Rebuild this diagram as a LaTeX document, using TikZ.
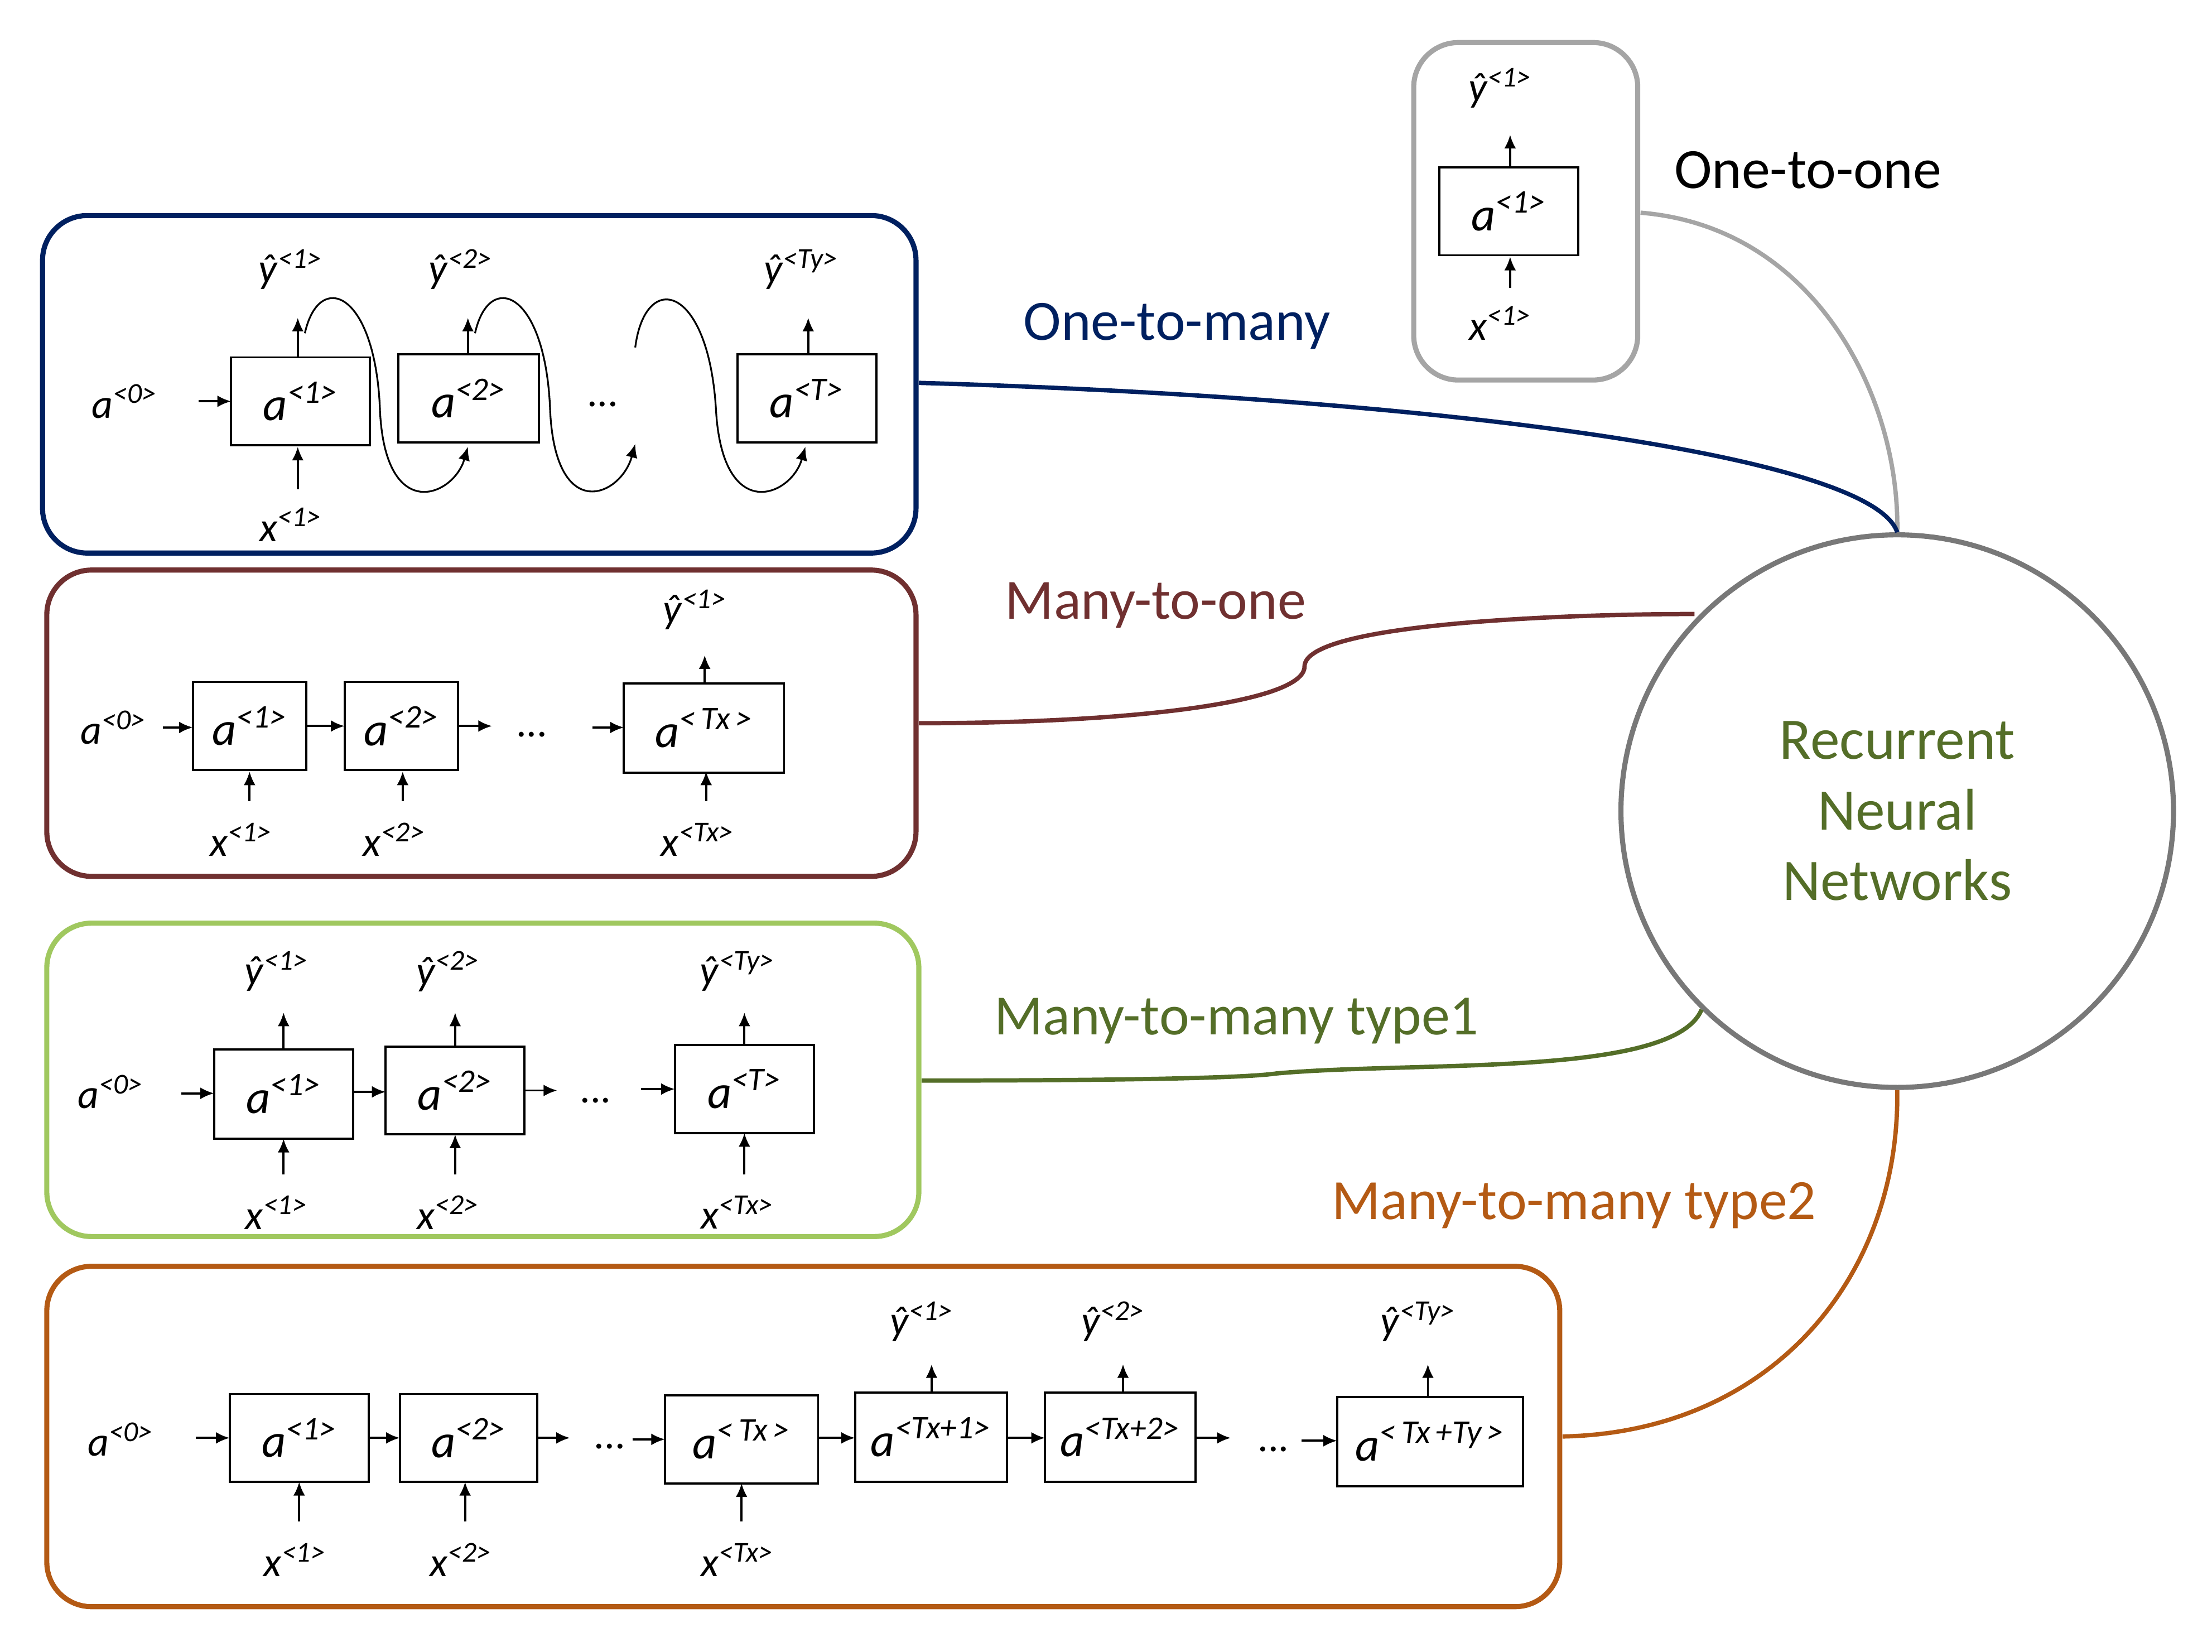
\documentclass[tikz,border=0pt]{standalone}
\usepackage{fontspec}
\setmainfont{Carlito}
\usetikzlibrary{arrows.meta}
\definecolor{navy}{RGB}{0,32,96}
\definecolor{maroon}{RGB}{112,48,48}
\definecolor{lgreen}{RGB}{160,200,95}
\definecolor{dgreen}{RGB}{84,110,40}
\definecolor{rust}{RGB}{180,90,20}
\definecolor{gr}{RGB}{165,165,165}
\definecolor{cg}{RGB}{120,120,120}
\newcommand\sym[2]{\textit{#1}\textsuperscript{\textit{<#2>}}}
\newcommand\yh[1]{\textit{ŷ}\textsuperscript{\textit{<#1>}}}
\begin{document}
\begin{tikzpicture}[x=0.0254cm,y=-0.0254cm,
 grp/.style={draw,line width=2.6pt,rounded corners=0.8cm},
 cell/.style={draw,line width=1.1pt,font=\fontsize{24}{26}\selectfont,inner sep=0pt},
 lab/.style={font=\fontsize{21}{23}\selectfont,inner sep=1pt},
 ttl/.style={font=\fontsize{29}{32}\selectfont},
 arr/.style={-{Latex[length=7pt,width=6pt]},line width=1.1pt},
 conn/.style={line width=2.2pt}]
\useasboundingbox (0,0) rectangle (1560,1164.6);
\def\C#1#2#3#4#5#6{\node[cell,minimum width={(#4-#2)*0.0254 cm},minimum height={(#5-#3)*0.0254 cm}] (#1) at ({(#2+#4)/2},{(#3+#5)/2}) {#6};}
% ---------- circle
\node[draw=cg,line width=2.6pt,circle,inner sep=0pt,minimum size=9.9cm,text=dgreen,align=center,font=\fontsize{30}{36}\selectfont] (rnn) at (1338,572) {Recurrent\\Neural\\Networks};
% ---------- one-to-one
\draw[grp,draw=gr] (997,30) rectangle (1155,268);
\coordinate (g0) at (1157,150);
\C{o1}{1015}{118}{1113}{180}{\sym{a}{1}}
\node[lab] (o1y) at (1058,62) {\yh{1}};
\node[lab] (o1x) at (1058,228) {\sym{x}{1}};
\draw[arr] (1065,118) -- (1065,95);
\draw[arr] (1065,203) -- (1065,181);
\node[ttl] (t0) at (1275,120) {One-to-one};
\draw[conn,gr] (g0) .. controls (1280,160) and (1340,280) .. (rnn.north);
% ---------- one-to-many
\draw[grp,draw=navy] (30,152) rectangle (646,390);
\node[ttl,text=navy] (t1) at (830,230) {One-to-many};
\coordinate (g1) at (648,270);
\draw[conn,navy] (g1) .. controls (1000,280) and (1320,320) .. (rnn.north);
\C{m1}{163}{252}{261}{314}{\sym{a}{1}}
\C{m2}{281}{250}{380}{312}{\sym{a}{2}}
\C{m3}{520}{250}{618}{312}{\sym{a}{T}}
\node[lab] (m0) at (88,283) {\sym{a}{0}};
\draw[arr] (140,283) -- (163,283);
\node[lab] (md) at (425,285) {...};
\foreach \x/\t/\tp in {205/1/252,325/2/250,565/Ty/250}{
 \node[lab] at (\x,190) {\yh{\t}};
 \draw[arr] ({\x+5},\tp) -- ({\x+5},224);
}
\node[lab] (mx) at (205,370) {\sym{x}{1}};
\draw[arr] (210,345) -- (210,315);
\draw[line width=0.9pt,-{Latex[length=7pt,width=6pt]}] (215,235) .. controls (225,190) and (265,205) .. (268,290) .. controls (272,370) and (320,350) .. (330,315);
\draw[line width=0.9pt,-{Latex[length=7pt,width=6pt]}] (335,235) .. controls (345,190) and (385,205) .. (388,290) .. controls (392,370) and (438,350) .. (448,313);
\draw[line width=0.9pt,-{Latex[length=7pt,width=6pt]}] (448,245) .. controls (455,190) and (500,200) .. (505,290) .. controls (510,370) and (558,350) .. (568,315);
% ---------- many-to-one
\draw[grp,draw=maroon] (33,402) rectangle (646,618);
\node[ttl,text=maroon] (t2) at (815,427) {Many-to-one};
\coordinate (g2) at (648,510);
\coordinate (e2) at (1195,433);
\draw[conn,maroon] (g2) .. controls (800,510) and (920,495) .. (920,470) .. controls (920,440) and (1100,433) .. (e2);
\C{n1}{136}{481}{216}{543}{\sym{a}{1}}
\C{n2}{243}{481}{323}{543}{\sym{a}{2}}
\C{n3}{440}{482}{553}{545}{\sym{a}{\,Tx\,}}
\node[lab] (n0) at (80,513) {\sym{a}{0}};
\node[lab] (nd) at (375,518) {...};
\draw[arr] (115,513) -- (136,513);
\draw[arr] (216,512) -- (243,512);
\draw[arr] (323,512) -- (347,512);
\draw[arr] (418,513) -- (440,513);
\node[lab] at (490,430) {\yh{1}};
\draw[arr] (497,482) -- (497,462);
\foreach \x/\t in {170/1,278/2,492/Tx}{
 \node[lab] at (\x,592) {\sym{x}{\t}};
 \draw[arr] ({\x+6},565) -- ({\x+6},544);
}
% ---------- many-to-many type1
\draw[grp,draw=lgreen] (33,651) rectangle (648,872);
\node[ttl,text=dgreen] (t3) at (872,720) {Many-to-many type1};
\coordinate (g3) at (650,762);
\coordinate (e3) at (1200,712);
\draw[conn,dgreen] (g3) .. controls (800,762) and (880,760) .. (900,757) .. controls (1000,748) and (1180,760) .. (e3);
\C{p1}{151}{740}{249}{803}{\sym{a}{1}}
\C{p2}{272}{738}{370}{800}{\sym{a}{2}}
\C{p3}{476}{737}{574}{799}{\sym{a}{T}}
\node[lab] (p0) at (78,770) {\sym{a}{0}};
\node[lab] (pd) at (420,776) {...};
\draw[arr] (128,771) -- (151,771);
\draw[arr] (249,770) -- (272,770);
\draw[arr] (370,769) -- (393,769);
\draw[arr] (452,768) -- (476,768);
\foreach \x/\t/\tp in {195/1/740,316/2/738,520/Ty/737}{
 \node[lab] at (\x,685) {\yh{\t}};
 \draw[arr] ({\x+5},\tp) -- ({\x+5},714);
}
\foreach \x/\t/\bt in {195/1/803,316/2/800,520/Tx/799}{
 \node[lab] at (\x,855) {\sym{x}{\t}};
 \draw[arr] ({\x+5},828) -- ({\x+5},\bt);
}
% ---------- many-to-many type2
\draw[grp,draw=rust] (33,893) rectangle (1100,1133);
\node[ttl,text=rust] (t4) at (1110,850) {Many-to-many type2};
\coordinate (g4) at (1102,1013);
\draw[conn,rust] (g4) .. controls (1250,1010) and (1340,900) .. (rnn.south);
\C{q1}{162}{983}{260}{1045}{\sym{a}{1}}
\C{q2}{282}{983}{379}{1045}{\sym{a}{2}}
\C{q3}{469}{984}{577}{1046}{\sym{a}{\,Tx\,}}
\C{q4}{603}{982}{710}{1045}{\sym{a}{Tx+1}}
\C{q5}{737}{982}{843}{1045}{\sym{a}{Tx+2}}
\C{q6}{943}{985}{1074}{1048}{\sym{a}{\,Tx\,+Ty\,}}
\node[lab] (q0) at (85,1015) {\sym{a}{0}};
\node[lab] at (430,1020) {...};
\node[lab] at (898,1022) {...};
\draw[arr] (138,1014) -- (162,1014);
\draw[arr] (260,1014) -- (282,1014);
\draw[arr] (379,1014) -- (402,1014);
\draw[arr] (446,1015) -- (469,1015);
\draw[arr] (577,1014) -- (603,1014);
\draw[arr] (710,1014) -- (737,1014);
\draw[arr] (843,1014) -- (868,1014);
\draw[arr] (918,1016) -- (943,1016);
\foreach \x/\t/\tp in {650/1/982,785/2/982,1000/Ty/985}{
 \node[lab] at (\x,932) {\yh{\t}};
 \draw[arr] ({\x+7},\tp) -- ({\x+7},962);
}
\foreach \x/\t/\bt in {208/1/1045,325/2/1045,520/Tx/1046}{
 \node[lab] at (\x,1100) {\sym{x}{\t}};
 \draw[arr] ({\x+3},1073) -- ({\x+3},\bt);
}
\end{tikzpicture}
\end{document}
